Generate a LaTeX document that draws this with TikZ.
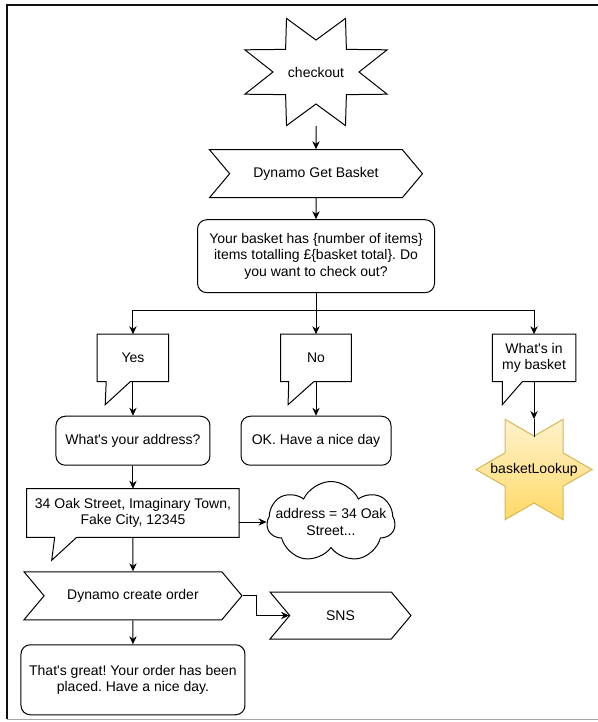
\documentclass[tikz,border=0pt]{standalone}
\usepackage{fontspec}
\setmainfont{Liberation Sans}
\usepackage{tikz}
\usetikzlibrary{shapes.symbols, arrows.meta, positioning, calc}
\definecolor{myline}{RGB}{0,0,0}
\definecolor{myframe}{RGB}{15,15,15}
\definecolor{mygrey}{RGB}{165,165,165}
\definecolor{staredge}{RGB}{214,182,86}
\definecolor{startop}{RGB}{255,242,204}
\definecolor{starbot}{RGB}{255,217,102}
\newcommand{\mytext}{\fontsize{10.5}{12.5}\selectfont}
\frenchspacing
\tikzset{
  box/.style={rectangle, draw=myline, fill=white, rounded corners=7pt,
    align=center, line width=0.75pt, font=\mytext},
  stepbox/.style={signal, signal from=west, signal to=east,
    signal pointer angle=100, draw=myline, fill=white, minimum height=36pt,
    font=\mytext, line width=0.75pt},
  bubble/.style={rectangle, align=center, minimum height=35.25pt,
    font=\mytext},
  bubbleline/.style={draw=myline, line width=0.75pt},
  starline/.style={draw=myline, line width=0.75pt},
  arrow/.style={-{Stealth[length=6pt,width=5.5pt]}, line width=0.75pt, color=myline},
  line/.style={line width=0.75pt, color=myline}
}
% outline of a speech bubble: node, tail base from/to (from south west), tail tip
\newcommand{\bubbletail}[4]{%
  \draw[bubbleline] (#1.south west) -- (#1.north west) -- (#1.north east)
    -- (#1.south east) -- ([xshift=#3]#1.south west)
    -- ([shift={#4}]#1.south west) -- ([xshift=#2]#1.south west) -- cycle;}

\begin{document}
\begin{tikzpicture}[x=0.75pt, y=-0.75pt]
  \useasboundingbox (0,0) rectangle (598,722);
  % frame
  \draw[myframe, line width=2pt] (598,5) -- (7,5) -- (7,719);
  \draw[mygrey, line width=0.75pt] (7,719) -- (598,719);

  % start star
  \node[font=\mytext, minimum width=106.7pt, minimum height=80.4pt] (checkout) at (316,72) {checkout};
  \draw[starline] ([shift={(22.5:57.75pt and 43.5pt)}]checkout.center)
    \foreach \a in {0,45,...,315} {
      -- ([shift={(\a+22.5:57.75pt and 43.5pt)}]checkout.center)
      -- ([shift={(\a+45:32.25pt and 24pt)}]checkout.center)} -- cycle;

  \node[stepbox, minimum width=159.75pt, below=17.5pt of checkout] (getbasket) {Dynamo Get Basket};
  \node[box, minimum width=177.75pt, minimum height=54.75pt, below=15.75pt of getbasket] (question)
    {Your basket has \{number of items\}\\items totalling £\{basket total\}. Do\\you want to check out?};

  % answers
  \node[bubble, minimum width=52.5pt, below=30.75pt of question] (no) {No};
  \node[bubble, minimum width=53.25pt, left=84pt of no] (yes) {Yes};
  \node[bubble, minimum width=62.25pt, right=105.75pt of no] (what) {What\textquotesingle s in\\my basket};
  \bubbletail{no}{6pt}{24.75pt}{(5.5pt,-17.25pt)}
  \bubbletail{yes}{6.75pt}{24.75pt}{(6pt,-17.25pt)}
  \bubbletail{what}{7.5pt}{22.5pt}{(7.5pt,-17.25pt)}

  \node[box, minimum width=115.5pt, minimum height=36.75pt, below=25.5pt of yes] (address) {What\textquotesingle s your address?};
  \node[box, minimum width=112.5pt, minimum height=36.75pt, below=25.5pt of no] (niceday) {OK. Have a nice day};

  % lambda star
  \node[minimum width=87pt, minimum height=75.3pt, below=28pt of what] (lookup) {};
  \draw[starline, draw=staredge, top color=startop, bottom color=starbot]
    ([shift={(0:43.5pt)}]lookup.center)
    \foreach \a in {0,60,...,300} {
      -- ([shift={(\a:43.5pt)}]lookup.center)
      -- ([shift={(\a+30:25.1pt)}]lookup.center)} -- cycle;
  \node[font=\mytext] (lookuptext) at (lookup.center) {basketLookup};

  \node[bubble, minimum width=159pt, minimum height=36pt, below=17.25pt of address] (street)
    {34 Oak Street, Imaginary Town,\\Fake City, 12345};
  \bubbletail{street}{21pt}{37.5pt}{(18.75pt,-17.25pt)}
  \node[cloud, cloud puffs=7, cloud puff arc=130, cloud ignores aspect, draw=myline, line width=0.75pt,
    minimum width=96pt, minimum height=60.75pt,
    label={[font=\mytext, align=center]center:{address = 34 Oak\\Street...}}] (addrcloud) at (331,522) {};

  \node[stepbox, minimum width=163.5pt, below=25.5pt of street] (order) {Dynamo create order};
  \node[stepbox, minimum width=105.75pt, minimum height=35.25pt] (sns) at (340.5,615.5) {SNS};
  \node[box, minimum width=168pt, minimum height=52.5pt, below=18pt of order] (great)
    {That\textquotesingle s great! Your order has been\\placed. Have a nice day.};

  \draw[arrow] (checkout) -- (getbasket);
  \draw[arrow] (getbasket) -- (question);
  \draw[line] (question.south) -- ++(0,17) coordinate (split);
  \draw[arrow] (split) -| (yes.north);
  \draw[arrow] (split) -- (no.north);
  \draw[arrow] (split) -| (what.north);
  \draw[arrow] (yes) -- (address);
  \draw[arrow] (no) -- (niceday);
  \draw[arrow] (what) -- (lookup.north);
  \draw[line] (lookup.north) -- ++(0,18);
  \draw[arrow] (address) -- (street);
  \draw[arrow] (street.east |- addrcloud.west) -- (addrcloud.west);
  \draw[arrow] (street) -- (order);
  \draw[arrow] (order.east) -- ++(14,0) |- (sns.west);
  \draw[arrow] (order) -- (great);
\end{tikzpicture}
\end{document}
